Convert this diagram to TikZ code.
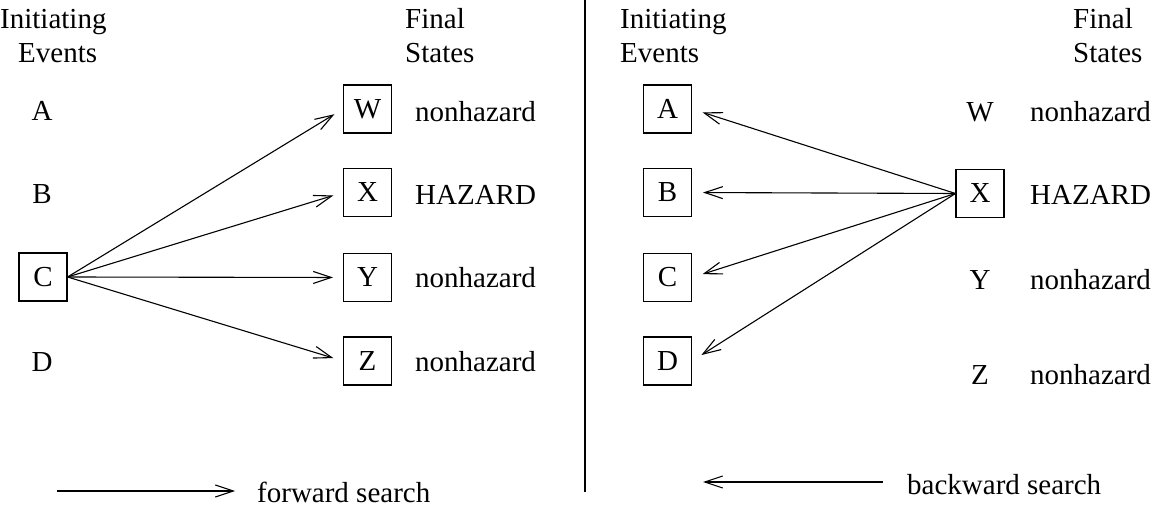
\documentclass[tikz,border=0pt]{standalone}
\usepackage{fontspec}
\setmainfont{Liberation Serif}
\usetikzlibrary{arrows.meta}
\begin{document}
\begin{tikzpicture}[x=1pt,y=-1pt,
  txt/.style={anchor=base west,inner sep=0pt,font=\fontsize{29}{34}\selectfont},
  ltr/.style={anchor=base,inner sep=0pt,font=\fontsize{29}{34}\selectfont},
  evbox/.style={draw,line width=1.1pt,minimum width=48pt,minimum height=48pt,inner sep=0pt,
    text height=19pt,text depth=0pt,font=\fontsize{29}{34}\selectfont},
  search/.style={line width=1.1pt,-{Straight Barb[length=18pt,width=12pt,line width=1.1pt]}},
  searchback/.style={line width=1.1pt,{Straight Barb[length=18pt,width=12pt,line width=1.1pt]}-}]
\useasboundingbox (0,0) rectangle (1154,510);

% forward search panel
\node[txt] (li1) at (0,29) {Initiating};
\node[txt] (li2) at (18,63) {Events};
\node[txt] (lf1) at (405,29) {Final};
\node[txt] (lf2) at (405,63) {States};
\node[ltr] (lA) at (42,121) {A};
\node[ltr] (lB) at (42,204) {B};
\node[evbox] (lC) at (43,277) {C};
\node[ltr] (lD) at (42,372) {D};
\node[evbox] (lW) at (367.5,109) {W};
\node[evbox] (lX) at (367.5,192.5) {X};
\node[evbox] (lY) at (367.5,277.5) {Y};
\node[evbox] (lZ) at (367.5,361) {Z};
\node[txt] (lsW) at (415,122) {nonhazard};
\node[txt] (lsX) at (415,205) {HAZARD};
\node[txt] (lsY) at (415,288) {nonhazard};
\node[txt] (lsZ) at (415,372) {nonhazard};
\foreach \t in {lW,lX,lY,lZ}
  \draw[search,shorten >=10pt] (lC.east) -- (\t.west);

% divider
\coordinate (d1) at (585,0);
\coordinate (d2) at (585,492);
\draw[line width=1.1pt] (d1) -- (d2);

% backward search panel
\node[txt] (ri1) at (620,29) {Initiating};
\node[txt] (ri2) at (620,63) {Events};
\node[txt] (rf1) at (1073,29) {Final};
\node[txt] (rf2) at (1073,63) {States};
\node[evbox] (rA) at (667.5,109) {A};
\node[evbox] (rB) at (667.5,192.5) {B};
\node[evbox] (rC) at (667.5,277.5) {C};
\node[evbox] (rD) at (667.5,361) {D};
\node[ltr] (rW) at (980,122) {W};
\node[evbox] (rX) at (980,193.5) {X};
\node[ltr] (rY) at (980,290) {Y};
\node[ltr] (rZ) at (980,385) {Z};
\node[txt] (rsW) at (1030,122) {nonhazard};
\node[txt] (rsX) at (1030,205) {HAZARD};
\node[txt] (rsY) at (1030,290) {nonhazard};
\node[txt] (rsZ) at (1030,385) {nonhazard};
\foreach \t in {rA,rB,rC,rD}
  \draw[search,shorten >=11pt] (rX.west) -- (\t.east);

% legend
\coordinate (f1) at (57,491);
\coordinate (f2) at (235,491);
\draw[search] (f1) -- (f2);
\node[txt] (fl) at (257,502) {forward search};
\coordinate (b1) at (703,482);
\coordinate (b2) at (883,482);
\draw[searchback] (b1) -- (b2);
\node[txt] (bl) at (907,494) {backward search};
\end{tikzpicture}
\end{document}
